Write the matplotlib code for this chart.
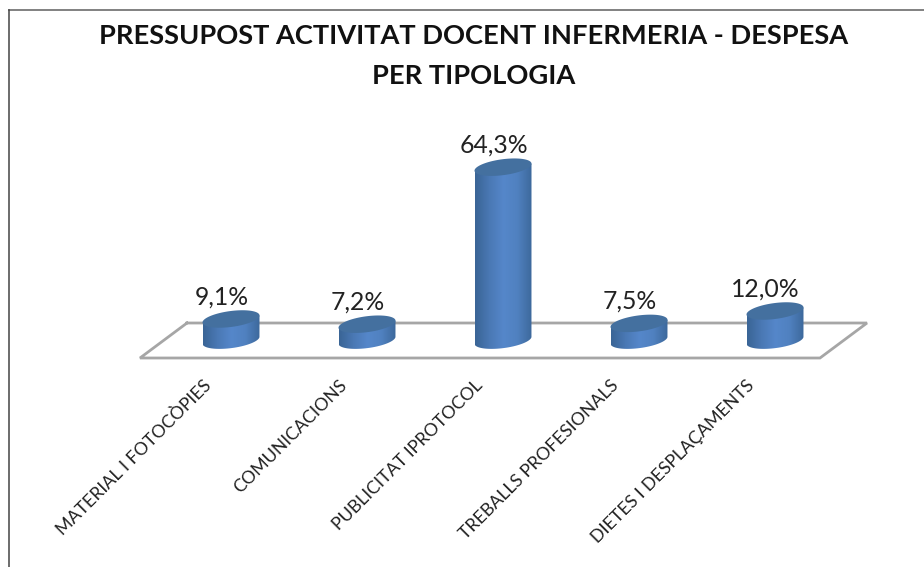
import numpy as np
import matplotlib.pyplot as plt
from matplotlib.colors import LinearSegmentedColormap
from matplotlib.patches import Polygon

plt.rcParams["font.family"] = ["Lato", "DejaVu Sans"]

categories = ["MATERIAL I FOTOCÒPIES", "COMUNICACIONS", "PUBLICITAT IPROTOCOL",
              "TREBALLS PROFESIONALS", "DIETES I DESPLAÇAMENTS"]
values = [9.1, 7.2, 64.3, 7.5, 12.0]
value_labels = ["9,1%", "7,2%", "64,3%", "7,5%", "12,0%"]

W, H = 924, 567
fig = plt.figure(figsize=(W / 100, H / 100), dpi=100)

# background layer in pixels, for frame, floor and title
bg = fig.add_axes([0, 0, 1, 1])
bg.set_xlim(0, W)
bg.set_ylim(H, 0)
bg.axis("off")
bg.plot([9, W], [10, 10], color="#777777", lw=1.3)
bg.plot([9, 9], [10, H], color="#444444", lw=1.1)
bg.plot([187, 140, 820, 867, 187], [323, 358, 358, 323, 323], color="#a6a6a6", lw=2, solid_joinstyle="miter")
bg.text(474, 35.5, "PRESSUPOST ACTIVITAT DOCENT INFERMERIA - DESPESA", ha="center", va="center",
        fontsize=19.65, fontweight="bold", color="#111111")
bg.text(474, 75.5, "PER TIPOLOGIA", ha="center", va="center",
        fontsize=19.65, fontweight="bold", color="#111111")

# chart layer: x is the category number, y the value
x_step = 136
x0 = 231
y_scale = 2.75
y_zero = 344
ax = fig.add_axes([0, 0, 1, 1])
ax.patch.set_alpha(0)
ax.axis("off")

half_w = 28.5 / x_step
half_h = 8 / y_scale
tilt = 3.5 / y_scale
base = 1.4  # floor level on the value scale

body_cmap = LinearSegmentedColormap.from_list("body", ["#3a6596", "#4a78b4", "#5587ca", "#5081c0", "#3d699c"])
grad = np.linspace(0, 1, 64).reshape(1, -1)
t = np.linspace(0, 2 * np.pi, 120)


def ellipse(cx, cy):
    return np.column_stack([cx + half_w * np.cos(t),
                            cy + half_h * np.sin(t) + tilt * np.cos(t)])


for i, v in enumerate(values):
    top = ellipse(i, v)
    # side of the cylinder = top half at the value, bottom half at the floor
    low = t[(t > np.pi) & (t < 2 * np.pi)]
    xs = i + half_w * np.cos(low)
    ys = base + half_h * np.sin(low) + tilt * np.cos(low)
    up = t[(t >= 0) & (t <= np.pi)]
    xt = i + half_w * np.cos(up)
    yt = v + tilt * np.cos(up)
    outline = np.column_stack([np.r_[xt, xs], np.r_[yt, ys]])
    im = ax.imshow(grad, cmap=body_cmap, aspect="auto", zorder=2,
                   extent=[i - half_w, i + half_w, base - half_h * 2, v + half_h * 2])
    im.set_clip_path(Polygon(outline, transform=ax.transData))
    ax.add_patch(Polygon(top, closed=True, fc="#44709f", ec="none", zorder=3))
    ax.text(i - 0.07, v + half_h + 1.0, value_labels[i], ha="center", va="bottom",
            fontsize=17.8, color="#222222", zorder=4)
    # rotated label, anchored at its upper right end
    ax.text(i - 0.21, -12.2, categories[i], rotation=45, rotation_mode="anchor", ha="right", va="top",
            fontsize=12.8, color="#222222", zorder=4)

ax.set_xlim((0 - x0) / x_step, (W - x0) / x_step)
ax.set_ylim((y_zero - H) / y_scale, y_zero / y_scale)

fig.savefig("out.png", dpi=100)
